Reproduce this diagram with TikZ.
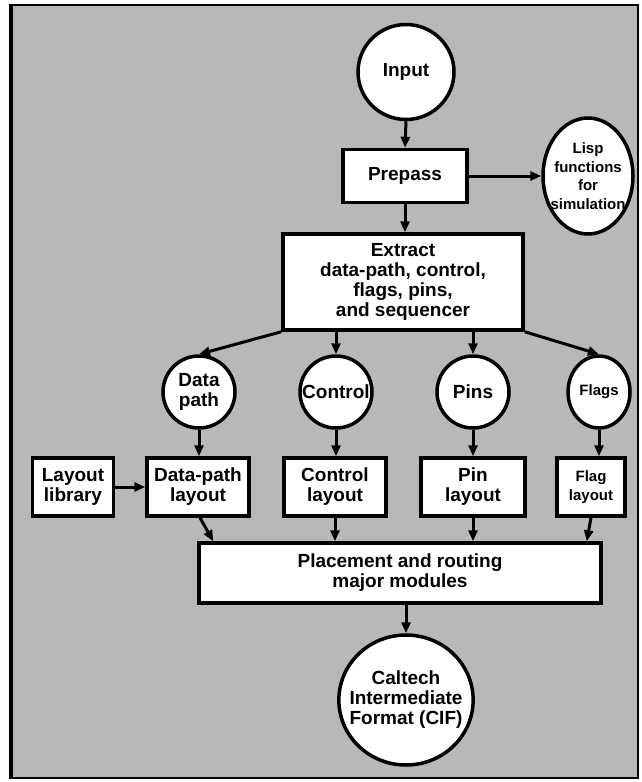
\documentclass[tikz,border=0pt]{standalone}
\usepackage{fontspec}
\setmainfont{Liberation Sans}
\usetikzlibrary{shapes.geometric,arrows.meta,calc}
\definecolor{scan}{gray}{0.72}
\tikzset{
  stage/.style={
      draw,
      line width=3.5pt,
      fill=white,
      align=center,
      inner sep=0pt,
      font=\bfseries\fontsize{19}{20}\selectfont
    },
  blob/.style={stage, ellipse, inner xsep=-9pt},
  small/.style={font=\bfseries\fontsize{15}{18.5}\selectfont},
  flow/.style={->, line width=3pt}
}

\begin{document}
\begin{tikzpicture}[x=1pt,y=-1pt,>={Triangle[length=11pt,width=9pt]}]
\useasboundingbox (0,0) rectangle (641,782);
% the frame
\draw[fill=scan, line width=1.5pt] (10,5) rectangle (638,778);
\draw[line width=4pt] (11,4) -- (11,779);
% the shapes
\node[blob, minimum width=96pt, minimum height=95pt] at (406,72) (input) {Input};
\node[stage, minimum width=124pt, minimum height=53pt] at (405,176) (prepass) {Prepass};
\node[blob, small, minimum width=90pt, minimum height=116pt] at (588,176) (lisp)
  {Lisp\\functions\\for\\simulation};
\node[stage, minimum width=240pt, minimum height=96pt] at (403,282) (extract)
  {Extract\\data-path, control,\\flags, pins,\\and sequencer};
\node[blob, minimum width=72pt, minimum height=72pt] at (199,392) (dpath) {Data\\path};
\node[blob, minimum width=72pt, minimum height=72pt] at (336,392) (control) {Control};
\node[blob, minimum width=72pt, minimum height=72pt] at (473,392) (pins) {Pins};
\node[blob, small, minimum width=62pt, minimum height=72pt] at (599,392) (flags) {Flags};
\node[stage, minimum width=81pt, minimum height=58pt] at (73,487) (lib) {Layout\\library};
\node[stage, minimum width=102pt, minimum height=58pt] at (198,487) (dplay) {Data-path\\layout};
\node[stage, minimum width=102pt, minimum height=58pt] at (335,487) (ctlay) {Control\\layout};
\node[stage, minimum width=104pt, minimum height=58pt] at (473,487) (pinlay) {Pin\\layout};
\node[stage, small, minimum width=68pt, minimum height=58pt] at (591,487) (flaglay) {Flag\\layout};
\node[stage, minimum width=402pt, minimum height=60pt] at (400,573) (place)
  {Placement and routing\\major modules};
\node[blob, minimum width=132pt, minimum height=130pt] at (406,700) (cif)
  {Caltech\\Intermediate\\Format (CIF)};

%the arrows
\draw[flow] (input.south) -- (prepass.north);
\draw[flow] (prepass.east) -- (lisp.west);
\draw[flow] (prepass.south) -- (prepass.south |- extract.north);
\draw[flow] (extract.south west) -- (dpath.north);
\draw[flow] (control.north |- extract.south) -- (control.north);
\draw[flow] (pins.north |- extract.south) -- (pins.north);
\draw[flow] (extract.south east) -- (flags.north);
\draw[flow] (dpath.south) -- (dpath.south |- dplay.north);
\draw[flow] (control.south) -- (control.south |- ctlay.north);
\draw[flow] (pins.south) -- (pins.south |- pinlay.north);
\draw[flow] (flags.south) -- (flags.south |- flaglay.north);
\draw[flow] (lib.east) -- (dplay.west);
\draw[flow] ([xshift=2pt]dplay.south) -- ([xshift=16pt]place.north west);
\draw[flow] (ctlay.south) -- (ctlay.south |- place.north);
\draw[flow] (pinlay.south) -- (pinlay.south |- place.north);
\draw[flow] (flaglay.south) -- ([xshift=-16pt]place.north east);
\draw[flow] (cif.north |- place.south) -- (cif.north);
\end{tikzpicture}
\end{document}
